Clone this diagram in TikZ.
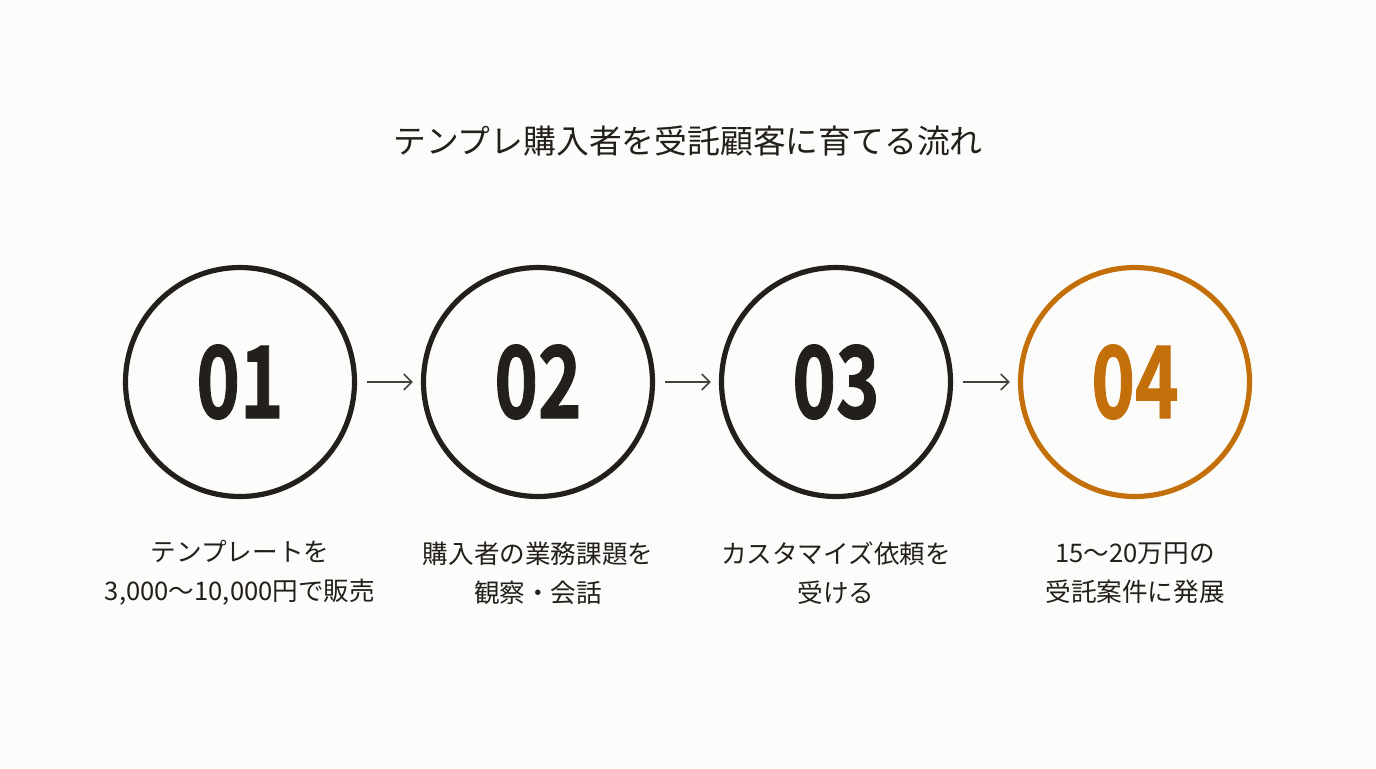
\documentclass[tikz,border=0pt]{standalone}
\usepackage{fontspec}
\setmainfont{Noto Sans CJK JP}
\newfontfamily\numfont[FakeBold=1.2]{Noto Sans CJK JP Bold}
\usetikzlibrary{arrows.meta}
\definecolor{inkdark}{HTML}{231F1C}
\definecolor{stepgold}{HTML}{C4700A}
\definecolor{paper}{HTML}{FCFCFB}
\tikzset{
  stepring/.style={circle, draw=inkdark, line width=2.6pt, minimum size=114.5pt, inner sep=0pt, text=inkdark},
  stepnum/.style={font=\numfont\fontsize{50}{50}\selectfont},
  steptext/.style={align=center, text=inkdark, font=\fontsize{12.8}{19.5}\selectfont},
  flowarrow/.style={-{Straight Barb[length=4pt,width=8pt]}, line width=0.8pt, draw=inkdark!85, shorten <=5pt, shorten >=4pt}
}
\newcommand{\narrow}[1]{\scalebox{0.74}[1]{#1}}
\begin{document}
\begin{tikzpicture}[x=0.5pt,y=-0.5pt]
  % canvas
  \fill[paper] (0,0) rectangle (1376,768);
  \useasboundingbox (0,0) rectangle (1376,768);

  % title
  \node[text=inkdark, font=\fontsize{16.4}{18}\selectfont] (title) at (688,141) {テンプレ購入者を受託顧客に育てる流れ};

  % steps
  \node[stepring] (s1) at (240,382) {};
  \node[stepring] (s2) at (538,382) {};
  \node[stepring] (s3) at (836,382) {};
  \node[stepring, draw=stepgold, text=stepgold] (s4) at (1135,382) {};

  \node[stepnum, text=inkdark] (n1) at (s1) {\narrow{01}};
  \node[stepnum, text=inkdark] (n2) at (s2) {\narrow{02}};
  \node[stepnum, text=inkdark] (n3) at (s3) {\narrow{03}};
  \node[stepnum, text=stepgold] (n4) at (s4) {\narrow{04}};

  % arrows
  \draw[flowarrow] (s1) -- (s2);
  \draw[flowarrow] (s2) -- (s3);
  \draw[flowarrow] (s3) -- (s4);

  % captions
  \node[steptext] (t1) at (240,573) {テンプレートを\\3,000〜10,000円で販売};
  \node[steptext] (t2) at (538,573) {購入者の業務課題を\\観察・会話};
  \node[steptext] (t3) at (836,573) {カスタマイズ依頼を\\受ける};
  \node[steptext] (t4) at (1135,573) {15〜20万円の\\受託案件に発展};
\end{tikzpicture}
\end{document}
